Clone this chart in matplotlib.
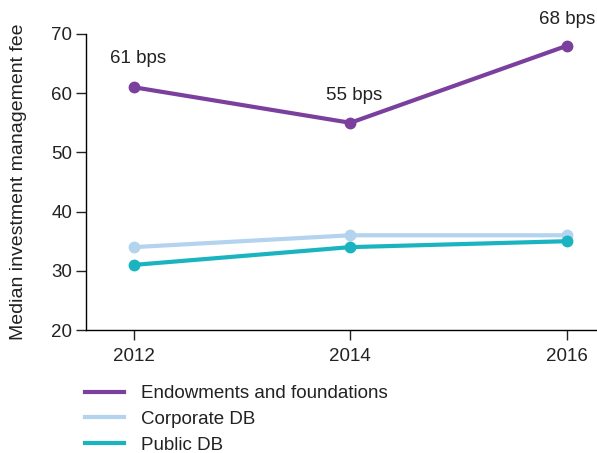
import matplotlib.pyplot as plt
from matplotlib.lines import Line2D

plt.rcParams['font.family'] = ['Liberation Sans', 'DejaVu Sans']

years = [2012, 2014, 2016]
endowments = [61, 55, 68]
corporate_db = [34, 36, 36]
public_db = [31, 34, 35]
labels = ['61 bps', '55 bps', '68 bps']

purple = '#7b3f9e'
light_blue = '#b3d3ef'
teal = '#1ab4c1'
txt = '#222222'

fig = plt.figure(figsize=(5.97, 4.53), dpi=100)
ax = fig.add_axes([0.144, 0.2715, 0.856, 0.6535])

ax.plot(years, corporate_db, color=light_blue, lw=3, marker='o', ms=7.5, zorder=3)
ax.plot(years, public_db, color=teal, lw=3, marker='o', ms=7.5, zorder=3)
ax.plot(years, endowments, color=purple, lw=3, marker='o', ms=7.5, zorder=4)

# bps labels above the endowment points
offsets = [(3, 21), (3, 20), (0, 19)]
for x, y, s, off in zip(years, endowments, labels, offsets):
    ax.annotate(s, (x, y), xytext=off, textcoords='offset points',
                ha='center', va='center', fontsize=13.5, color=txt)

ax.set_xlim(2011.556, 2016.28)
ax.set_ylim(20, 70)
ax.set_xticks(years)
ax.set_yticks(range(20, 71, 10))
ax.tick_params(labelsize=13.5, colors=txt, length=7, width=1)
ax.tick_params(axis='x', pad=6)
ax.tick_params(axis='y', pad=3)
ax.spines['top'].set_visible(False)
ax.spines['right'].set_visible(False)
ax.spines['left'].set_linewidth(1)
ax.spines['bottom'].set_linewidth(1)
ax.set_ylabel('Median investment management fee', fontsize=14, color=txt)
ax.yaxis.set_label_coords(-0.115, 0.5)

handles = [Line2D([], [], color=purple, lw=3),
           Line2D([], [], color=light_blue, lw=3),
           Line2D([], [], color=teal, lw=3)]
fig.legend(handles, ['Endowments and foundations', 'Corporate DB', 'Public DB'],
           loc='upper left', bbox_to_anchor=(0.142, 0.15), frameon=False,
           fontsize=13.5, handlelength=2.1, labelspacing=0.46, handletextpad=0.9,
           borderaxespad=0, borderpad=0, labelcolor=txt)

fig.savefig('out.png', dpi=100)
